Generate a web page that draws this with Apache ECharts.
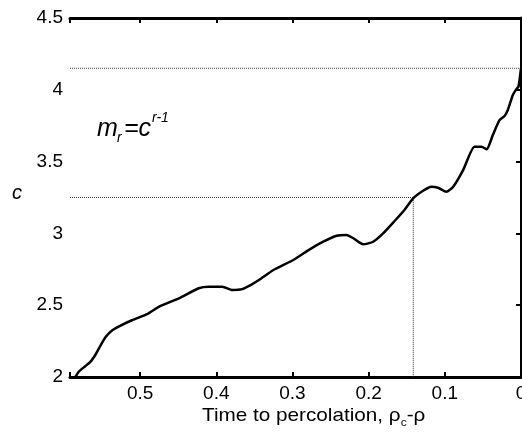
<!DOCTYPE html>
<html>
<head>
<meta charset="utf-8">
<script src="https://cdn.jsdelivr.net/npm/echarts@6/dist/echarts.min.js"></script>
<style>
  html, body { margin: 0; padding: 0; background: #fff; }
  #chart { width: 522px; height: 433px; }
</style>
</head>
<body>
<div id="chart"></div>
<script>
// time to percolation (rho_c - rho) and c
const timeToPerc = [0.585, 0.58, 0.572, 0.565, 0.558, 0.554, 0.545, 0.536, 0.525, 0.51, 0.49, 0.475,
  0.449, 0.423, 0.41, 0.392, 0.379, 0.366, 0.355, 0.344, 0.325, 0.299, 0.28, 0.264, 0.242, 0.229,
  0.22, 0.207, 0.194, 0.181, 0.1656, 0.153, 0.1416, 0.1285, 0.1175, 0.109, 0.098, 0.089, 0.076,
  0.061, 0.052, 0.045, 0.037, 0.028, 0.0216, 0.0173, 0.0107, 0.0063, 0.0033, 0.0];
const cValues = [2.0, 2.04, 2.075, 2.107, 2.16, 2.2, 2.28, 2.327, 2.36, 2.397, 2.44, 2.49,
  2.548, 2.618, 2.629, 2.629, 2.606, 2.612, 2.64, 2.675, 2.745, 2.815, 2.88, 2.931, 2.984, 2.989,
  2.966, 2.924, 2.942, 3.0, 3.088, 3.163, 3.244, 3.297, 3.325, 3.318, 3.29, 3.325, 3.441,
  3.604, 3.604, 3.586, 3.685, 3.79, 3.818, 3.859, 3.964, 4.003, 4.022, 4.15];

// dotted reference lines
const upperLevel = 4.15;
const lowerLevel = 3.25;
const lowerCross = 0.1414;

const xMax = 0.592;
const yTicks = [2, 2.5, 3, 3.5, 4, 4.5];

const font = 'Liberation Sans, Arial, sans-serif';
const chart = echarts.init(document.getElementById('chart'));

const curve = timeToPerc.map((t, i) => [t, cValues[i]]);

const axisCommon = {
  axisLine: { show: true, lineStyle: { color: '#000', width: 3 } },
  axisTick: { show: true, inside: true, length: 5, lineStyle: { color: '#000', width: 2 } },
  splitLine: { show: false }
};

const dotted = { color: '#333', width: 1, type: [1, 1] };

chart.setOption({
  animation: false,
  grid: { left: 70, right: 1, top: 18, bottom: 56, outerBoundsMode: 'none', containLabel: false },
  xAxis: [{
    ...axisCommon,
    type: 'value', inverse: true, min: 0, max: xMax, interval: 0.1,
    position: 'bottom',
    axisLabel: {
      color: '#000', fontSize: 19, fontFamily: font, margin: 7,
      formatter: v => (Math.abs(v * 10 - Math.round(v * 10)) < 1e-6 ? String(+v.toFixed(1)) : '')
    }
  }, {
    ...axisCommon,
    type: 'value', inverse: true, min: 0, max: xMax, interval: 0.1,
    position: 'top', axisLabel: { show: false }
  }],
  yAxis: [{
    ...axisCommon,
    type: 'value', min: yTicks[0], max: yTicks[yTicks.length - 1], interval: 0.5,
    position: 'left',
    axisLabel: { color: '#000', fontSize: 19, fontFamily: font, margin: 7 }
  }, {
    ...axisCommon,
    axisLine: { show: true, lineStyle: { color: '#000', width: 2 } },
    type: 'value', min: yTicks[0], max: yTicks[yTicks.length - 1], interval: 0.5,
    position: 'right', axisLabel: { show: false }
  }],
  series: [{
    type: 'line', name: 'upper',
    data: [[xMax, upperLevel], [0, upperLevel]],
    symbol: 'none', lineStyle: dotted, z: 1
  }, {
    type: 'line', name: 'lower',
    data: [[xMax, lowerLevel], [lowerCross, lowerLevel], [lowerCross, yTicks[0]]],
    symbol: 'none', lineStyle: dotted, z: 1
  }, {
    type: 'line', name: 'c',
    data: curve,
    symbol: 'none', smooth: 0.2,
    lineStyle: { color: '#000', width: 2.5 }, z: 3
  }],
  graphic: [
    { type: 'text', x: 12, y: 183,
      style: { text: 'c', font: 'italic 20px ' + font, fill: '#000' } },
    { type: 'text', x: 202, y: 403, scaleX: 1.09,
      style: {
        text: 'Time to percolation, ρ{s|c}-ρ',
        font: '19px ' + font, fill: '#000',
        rich: { s: { fontSize: 11, fontFamily: font, verticalAlign: 'bottom', lineHeight: 25, fill: '#000' } }
      } },
    { type: 'text', x: 97, y: 117,
      style: { text: 'm', font: 'italic 25px ' + font, fill: '#000' } },
    { type: 'text', x: 117, y: 131,
      style: { text: 'r', font: 'italic 14px ' + font, fill: '#000' } },
    { type: 'text', x: 124, y: 117,
      style: { text: '=c', font: 'italic 25px ' + font, fill: '#000' } },
    { type: 'text', x: 152, y: 111,
      style: { text: 'r-1', font: 'italic 14px ' + font, fill: '#000' } }
  ]
});
</script>
</body>
</html>
